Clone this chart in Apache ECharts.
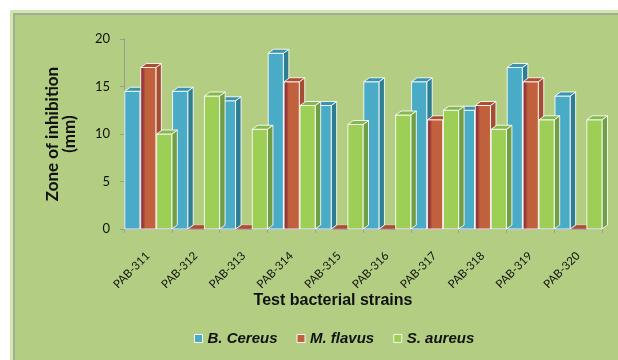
<!DOCTYPE html>
<html>
<head>
<meta charset="utf-8">
<script src="https://cdn.jsdelivr.net/npm/echarts@6/dist/echarts.min.js"></script>
<style>
  html, body { margin: 0; padding: 0; background: #ffffff; }
  #chart { width: 618px; height: 360px; }
</style>
</head>
<body>
<div id="chart"></div>
<script>
// Bacterial strains tested
const categories = ['PAB-311', 'PAB-312', 'PAB-313', 'PAB-314', 'PAB-315',
                    'PAB-316', 'PAB-317', 'PAB-318', 'PAB-319', 'PAB-320'];

// Zone of inhibition (mm) per organism
const bCereus = [14.5, 14.5, 13.5, 18.5, 13, 15.5, 15.5, 12.5, 17, 14];
const mFlavus = [17, 0, 0, 15.5, 0, 0, 11.5, 13, 15.5, 0];
const sAureus = [10, 14, 10.5, 13, 11, 12, 12.5, 10.5, 11.5, 11.5];

const seriesNames = ['B. Cereus', 'M. flavus', 'S. aureus'];
const yTicks = [0, 5, 10, 15, 20];

// face colours for the pseudo-3D columns: front, side, top, legend swatch
const palette = [
  { front: '#4aabc6', side: '#2e7d92', top: '#3c94ac', key: '#4aabc6' },
  { front: { type: 'linear', x: 0, y: 0, x2: 1, y2: 0,
             colorStops: [{ offset: 0, color: '#8c2c3a' }, { offset: 0.18, color: '#9a3a3a' },
                          { offset: 0.32, color: '#c0603c' }, { offset: 1, color: '#c2623d' }] },
    side: '#a44d33', top: '#ad4d34', key: '#c0603c' },
  { front: '#9dcf57', side: '#6f9e45', top: '#86b84e', key: '#9dcf57' }
];

const DX = 5.5, DY = 4;

function makeRender(sIdx) {
  return function (params, api) {
    const ci = api.value(0);
    const v = api.value(1);
    const base = api.coord([ci, 0]);
    const topPt = api.coord([ci, v]);
    const cw = api.size([1, 0])[0];
    const bw = cw / 3;
    const x0 = base[0] - cw / 2 + 0.8 + sIdx * bw;
    const x1 = x0 + bw - 0.8;
    const yb = base[1];
    const yt = topPt[1];
    const c = palette[sIdx];
    const edge = 'rgba(255,255,255,0.85)';
    const children = [];
    if (yb - yt > 0.5) {
      children.push({
        type: 'polygon',
        shape: { points: [[x1, yt], [x1 + DX, yt - DY], [x1 + DX, yb - DY], [x1, yb]] },
        style: { fill: c.side, stroke: edge, lineWidth: 1 }
      });
      children.push({
        type: 'rect',
        shape: { x: x0, y: yt, width: x1 - x0, height: yb - yt },
        style: { fill: c.front, stroke: edge, lineWidth: 1 }
      });
    }
    children.push({
      type: 'polygon',
      shape: { points: [[x0, yt], [x0 + DX, yt - DY], [x1 + DX, yt - DY], [x1, yt]] },
      style: { fill: c.top, stroke: v > 0 ? edge : 'rgba(255,255,255,0.25)', lineWidth: 1 }
    });
    return { type: 'group', children: children };
  };
}

function toData(arr) { return arr.map((v, i) => [i, v]); }

const chart = echarts.init(document.getElementById('chart'), null, { renderer: 'canvas' });

chart.setOption({
  animation: false,
  backgroundColor: '#ffffff',
  graphic: [
    { type: 'rect', z: -10, silent: true, shape: { x: 10, y: 10, width: 620, height: 360 }, style: { fill: '#d2e6b0' } },
    { type: 'rect', z: -9, silent: true, shape: { x: 13, y: 13, width: 620, height: 360 }, style: { fill: '#a2ac96' } },
    { type: 'rect', z: -8, silent: true, shape: { x: 15, y: 15, width: 620, height: 360 }, style: { fill: '#b3ce82' } },
    { type: 'text', x: 333, y: 301, silent: true,
      style: { text: 'Test bacterial strains', fill: '#111', font: 'bold 16px "Liberation Sans", Arial, sans-serif',
               textAlign: 'center', textVerticalAlign: 'middle' } }
  ],
  grid: { left: 124, right: 16, top: 39, bottom: 131 },
  legend: {
    left: 189, top: 326,
    itemWidth: 8, itemHeight: 8, itemGap: 19,
    icon: 'rect',
    textStyle: { fontFamily: '"Liberation Sans", Arial, sans-serif', fontWeight: 'bold', fontStyle: 'italic',
                 fontSize: 15, color: '#111' },
    data: seriesNames.map((n, i) => ({ name: n, itemStyle: { color: palette[i].key, borderColor: '#f4f8ee', borderWidth: 1 } }))
  },
  xAxis: {
    type: 'category',
    data: categories,
    axisLine: { lineStyle: { color: '#9a9a9a', width: 1 } },
    axisTick: { show: true, length: 4, lineStyle: { color: '#9a9a9a' } },
    axisLabel: { rotate: 45, margin: 25, fontFamily: 'Lato, sans-serif', fontSize: 11.5, color: '#111' },
    splitLine: { show: false }
  },
  yAxis: {
    type: 'value',
    min: yTicks[0], max: yTicks[yTicks.length - 1], interval: 5,
    name: 'Zone of inhibition\n(mm)',
    nameLocation: 'middle',
    nameGap: 46,
    nameRotate: 90,
    nameTextStyle: { fontFamily: 'Lato, sans-serif', fontWeight: 'bold', fontSize: 17, color: '#111', lineHeight: 17 },
    axisLine: { show: true, lineStyle: { color: '#9a9a9a', width: 1 } },
    axisTick: { show: true, length: 4, lineStyle: { color: '#9a9a9a' } },
    axisLabel: { margin: 14, fontFamily: 'Lato, sans-serif', fontSize: 13, color: '#111' },
    splitLine: { show: false }
  },
  series: [bCereus, mFlavus, sAureus].map((arr, i) => ({
    name: seriesNames[i],
    type: 'custom',
    renderItem: makeRender(i),
    encode: { x: 0, y: 1 },
    itemStyle: { color: palette[i].key },
    data: toData(arr),
    z: 2 + i
  }))
});
</script>
</body>
</html>
